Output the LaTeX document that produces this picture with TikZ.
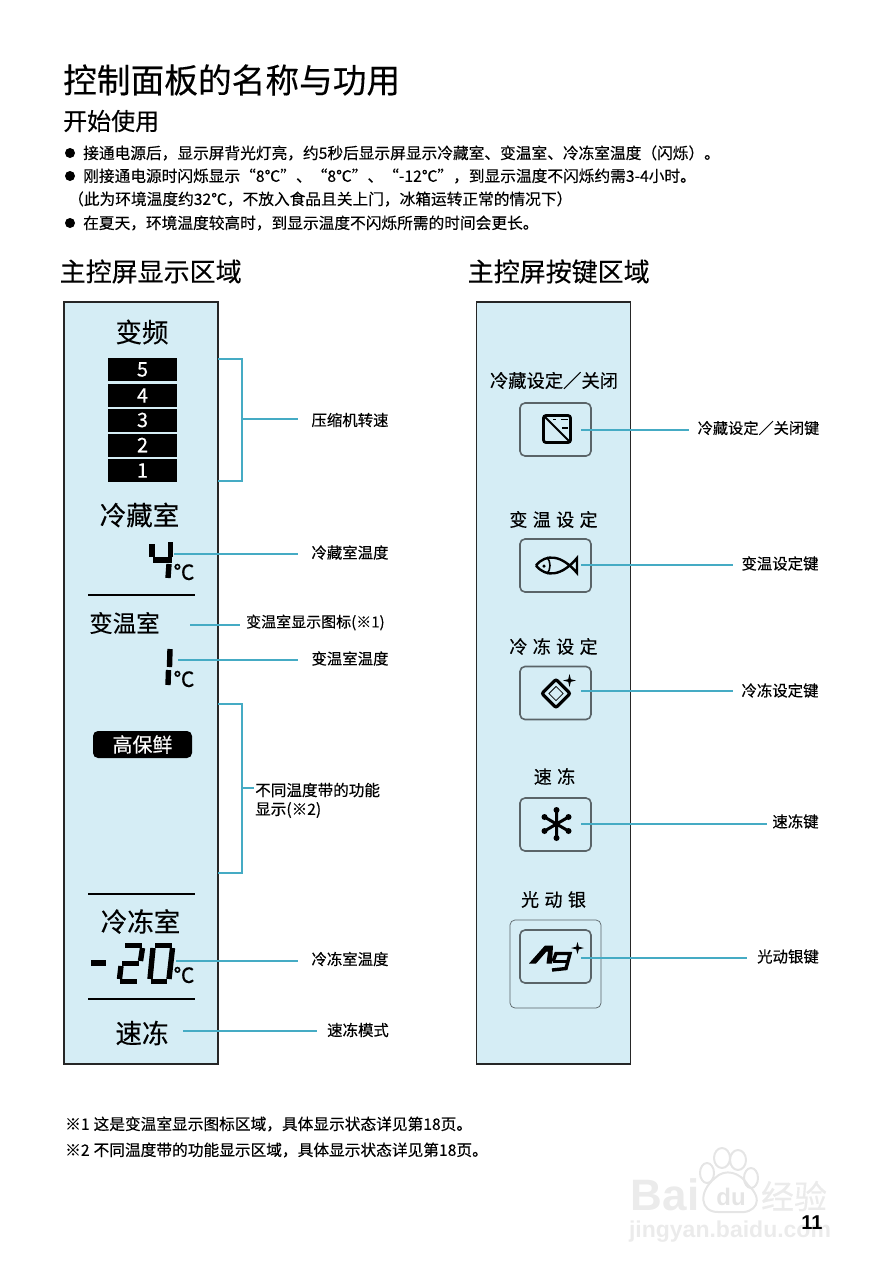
\documentclass[tikz,border=0pt]{standalone}
\usepackage{fontspec}
\setmainfont[FakeBold=.3]{Noto Sans CJK SC}
\newfontfamily\cjkwide[LetterSpace=30,FakeBold=.3]{Noto Sans CJK SC}
\newfontfamily\numfont{Liberation Sans}
\newcommand{\px}[1]{\fontsize{#1}{#1}\selectfont}
\definecolor{panelblue}{HTML}{D5EDF5}
\definecolor{wireblue}{HTML}{45ABC4}
\definecolor{keygray}{HTML}{5A6468}
\tikzset{
	panel/.style={draw=black!85,fill=panelblue,line width=1.4pt,inner sep=0pt,minimum width=154pt,minimum height=762pt},
	txt/.style={inner sep=0pt,anchor=west},
	note/.style={inner sep=0pt,font=\px{15.4}},
	head/.style={inner sep=0pt,font=\px{26.5}},
	keyname/.style={inner sep=0pt,font=\cjkwide\px{18}},
	speedbar/.style={fill=black,text=white,font=\px{20},inner sep=0pt,minimum width=69pt,minimum height=23pt},
	keybox/.style={draw=keygray,line width=1.6pt,rounded corners=5pt,inner sep=0pt,minimum width=71pt,minimum height=53pt},
	wire/.style={draw=wireblue,line width=1.5pt},
	rule/.style={line width=1.5pt},
	lcd/.style={line width=5.4pt},
	icon/.style={line width=2.8pt}
}
\begin{document}
\begin{tikzpicture}[x=1pt,y=-1pt]
	\useasboundingbox (0,0) rectangle (886,1280);
	% watermark
	\node[inner sep=0pt,text=black!8,font=\numfont\bfseries\px{44}] (wmbai) at (665,1195) {Bai};
	\node[inner sep=0pt,text=black!10,font=\numfont\bfseries\px{24}] (wmdu) at (731,1197) {du};
	\node[inner sep=0pt,text=black!8,font=\px{33}] (wmword) at (794,1196) {经验};
	\node[inner sep=0pt,text=black!8,font=\numfont\bfseries\px{23}] (wmsite) at (730,1232) {jingyan.baidu.com};
	\draw[black!10,line width=2pt] (707,1173) ellipse (7 and 10) (722,1158) ellipse (8 and 10) (738,1160) ellipse (8 and 10) (751,1178) ellipse (7 and 10);
	\draw[black!10,line width=2pt] (715,1178) .. controls (725,1168) and (740,1172) .. (748,1185) .. controls (765,1200) and (755,1214) .. (738,1212) -- (718,1212) .. controls (700,1212) and (698,1192) .. (715,1178);
	% heading
	\node[txt,font=\px{33.7}] (title) at (63,80) {控制面板的名称与功用};
	\node[txt,font=\px{24}] (subtitle) at (63,121) {开始使用};
	\node[circle,fill=black,inner sep=0pt,minimum size=10pt] (dota) at (70,153) {};
	\node[circle,fill=black,inner sep=0pt,minimum size=10pt] (dotb) at (70,176) {};
	\node[circle,fill=black,inner sep=0pt,minimum size=10pt] (dotc) at (70,223) {};
	\node[txt,font=\px{15.7}] (linea) at (83,153) {接通电源后，显示屏背光灯亮，约5秒后显示屏显示冷藏室、变温室、冷冻室温度（闪烁）。};
	\node[txt,font=\px{15.7}] (lineb) at (83,176) {刚接通电源时闪烁显示“8℃”、“8℃”、“-12℃”，到显示温度不闪烁约需3-4小时。};
	\node[txt,font=\px{15.7}] (linec) at (68,199) {（此为环境温度约32℃，不放入食品且关上门，冰箱运转正常的情况下）};
	\node[txt,font=\px{15.7}] (lined) at (83,223) {在夏天，环境温度较高时，到显示温度不闪烁所需的时间会更长。};
	\node[txt,font=\px{26}] (displayhead) at (59.5,271.5) {主控屏显示区域};
	\node[txt,font=\px{26}] (keyhead) at (467.5,271.5) {主控屏按键区域};
	% display panel
	\node[panel] (displaypanel) at (141,683) {};
	\node[head] (inverter) at (142,332) {变频};
	\node[speedbar] (speedfive) at (142.5,369.5) {5};
	\node[speedbar] (speedfour) at (142.5,395.5) {4};
	\node[speedbar] (speedthree) at (142.5,420) {3};
	\node[speedbar] (speedtwo) at (142.5,445) {2};
	\node[speedbar] (speedone) at (142.5,470.5) {1};
	\node[head] (fridge) at (139.5,515) {冷藏室};
	\draw[lcd] (152,544) -- (152,557);
	\draw[lcd] (153,560) -- (172,560);
	\draw[lcd] (170.5,542) -- (170.5,557);
	\draw[lcd] (169,564) -- (168,578);
	\node[inner sep=0pt,font=\px{21}] (fridgedeg) at (184,572) {℃};
	\draw[rule] (88,595) -- (194.5,595);
	\node[inner sep=0pt,font=\px{23.5}] (varroom) at (124.5,623) {变温室};
	\draw[lcd] (170,649) -- (169.5,667);
	\draw[lcd] (168.5,670) -- (168,685);
	\node[inner sep=0pt,font=\px{21}] (vardeg) at (184,679) {℃};
	\node[fill=black,text=white,rounded corners=5pt,inner sep=0pt,minimum width=99pt,minimum height=27pt,font=\px{20}] (freshtag) at (142.5,744.5) {高保鲜};
	\draw[rule] (88,894) -- (194.5,894);
	\node[head] (freezer) at (140.5,921.5) {冷冻室};
	\draw[lcd] (91,963) -- (106,963);
	\draw[lcd] (125,945.5) -- (142,945.5);
	\draw[lcd] (142.5,948) -- (140.5,961);
	\draw[lcd] (122,963.5) -- (139,963.5);
	\draw[lcd] (121,966) -- (119.5,979);
	\draw[lcd] (120,981.5) -- (137,981.5);
	\draw[lcd] (155,945.5) -- (172,945.5);
	\draw[lcd] (172.5,948) -- (169,979);
	\draw[lcd] (153,948) -- (150,979);
	\draw[lcd] (151,981.5) -- (167,981.5);
	\node[inner sep=0pt,font=\px{21}] (freezedeg) at (184,975) {℃};
	\draw[rule] (88,999) -- (194.5,999);
	\node[head] (quick) at (142,1033) {速冻};
	% display labels
	\node[note] (speedlabel) at (350,420) {压缩机转速};
	\node[note] (fridgelabel) at (350,552.5) {冷藏室温度};
	\node[txt,font=\px{15}] (iconlabel) at (246,622.5) {变温室显示图标(※1)};
	\node[note] (varlabel) at (350,658.5) {变温室温度};
	\node[txt,font=\px{15.6}] (banda) at (255,790) {不同温度带的功能};
	\node[txt,font=\px{15.6}] (bandb) at (255,810) {显示(※2)};
	\node[note] (freezelabel) at (350,959) {冷冻室温度};
	\node[note] (quicklabel) at (358,1030) {速冻模式};
	\coordinate (speedtop) at (218,359);
	\coordinate (speedbot) at (218,481);
	\coordinate (speedmid) at (242,419);
	\coordinate (bandtop) at (218,704);
	\coordinate (bandbot) at (218,873);
	\coordinate (bandmid) at (242,788);
	\coordinate (fridgeend) at (174,554);
	\coordinate (iconend) at (190,625);
	\coordinate (varend) at (178,660);
	\coordinate (freezeend) at (176,961);
	\coordinate (quickend) at (183,1031);
	\draw[wire] (speedtop) -| (speedmid) |- (speedbot);
	\draw[wire,shorten >=13pt] (speedmid) -- (speedmid -| speedlabel.west);
	\draw[wire] (bandtop) -| (bandmid) |- (bandbot);
	\draw[wire,shorten >=1pt] (bandmid) -- (bandmid -| banda.west);
	\draw[wire,shorten >=13pt] (fridgeend) -- (fridgeend -| fridgelabel.west);
	\draw[wire,shorten >=6pt] (iconend) -- (iconend -| iconlabel.west);
	\draw[wire,shorten >=13pt] (varend) -- (varend -| varlabel.west);
	\draw[wire,shorten >=13pt] (freezeend) -- (freezeend -| freezelabel.west);
	\draw[wire,shorten >=10pt] (quickend) -- (quickend -| quicklabel.west);
	% key panel
	\node[panel] (keypanel) at (553.5,683) {};
	\node[inner sep=0pt,font=\px{18.3}] (chillname) at (554,380.5) {冷藏设定／关闭};
	\node[keyname] (varname) at (553.5,519.5) {变温设定};
	\node[keyname] (coldname) at (553.5,646.5) {冷冻设定};
	\node[keyname] (quickname) at (554.5,776.5) {速冻};
	\node[keyname] (silvername) at (553.5,899.5) {光动银};
	\node[keybox] (chillkey) at (555.5,429.5) {};
	\node[keybox] (varkey) at (555.5,565.5) {};
	\node[keybox] (coldkey) at (555.5,693) {};
	\node[keybox] (quickkey) at (555.5,824.5) {};
	\node[draw=keygray,line width=.7pt,rounded corners=5pt,inner sep=0pt,minimum width=91pt,minimum height=88pt] (silverbase) at (555.5,964) {};
	\node[keybox] (silverkey) at (555.5,956.5) {};
	% icons
	\draw[icon,rounded corners=2.5pt] (543.5,415.5) rectangle (570.5,442.5);
	\draw[line width=2pt] (544,416) -- (570,442);
	\draw[line width=1.8pt] (553,419.5) -- (556,419.5) (561,419.5) -- (568,419.5) (562,428) -- (568,428);
	\draw[line width=2.4pt] (536,565.5) .. controls (546,553) and (562,555) .. (577,573) -- (577,558) .. controls (562,576) and (546,578) .. (536,565.5);
	\draw[line width=1.6pt] (547,557) .. controls (551,562) and (551,569) .. (547,574);
	\node[circle,fill=black,inner sep=0pt,minimum size=3.5pt] (fisheye) at (544,566) {};
	\node[draw,rotate=45,rounded corners=2pt,line width=3.2pt,inner sep=0pt,minimum size=20pt] (iceouter) at (556,693.5) {};
	\node[draw,rotate=45,line width=.8pt,inner sep=0pt,minimum size=10pt] (iceinner) at (556,693.5) {};
	\fill (569.5,674) -- (570.8,679.2) -- (576,680.5) -- (570.8,681.8) -- (569.5,687) -- (568.2,681.8) -- (563,680.5) -- (568.2,679.2) -- cycle;
	\draw[line width=3pt] (556.5,810) -- (556.5,838) (544.5,817) -- (568.5,831) (544.5,831) -- (568.5,817);
	\fill (556.5,810) circle (3) (556.5,838) circle (3) (544.5,817) circle (3) (568.5,831) circle (3) (544.5,831) circle (3) (568.5,817) circle (3);
	\fill (529,963.5) -- (545,945.5) -- (553,945.5) -- (552,963.5) -- (546.5,963.5) -- (548,951.5) -- (546.5,951.5) -- (536,963.5) -- cycle;
	\draw[line width=3.4pt] (553,961.5) -- (556,953.5) -- (570,953.5) -- (566,968.5) -- (552,970);
	\draw[line width=3.4pt] (552.5,961.5) -- (567,961.5);
	\fill (577.5,942) -- (578.8,946.7) -- (584,948) -- (578.8,949.3) -- (577.5,954) -- (576.2,949.3) -- (571,948) -- (576.2,946.7) -- cycle;
	% key labels
	\node[inner sep=0pt,font=\px{15.2}] (chilllabel) at (758.5,428) {冷藏设定／关闭键};
	\node[note] (varkeylabel) at (780,563.5) {变温设定键};
	\node[note] (coldlabel) at (780,690.5) {冷冻设定键};
	\node[note] (quickkeylabel) at (795.5,821.5) {速冻键};
	\node[note] (silverlabel) at (788,956.5) {光动银键};
	\coordinate (chillend) at (581,430);
	\coordinate (varkeyend) at (581,565);
	\coordinate (coldend) at (581,691);
	\coordinate (quickkeyend) at (581,824);
	\coordinate (silverend) at (581,958);
	\draw[wire,shorten >=9pt] (chillend) -- (chillend -| chilllabel.west);
	\draw[wire,shorten >=8pt] (varkeyend) -- (varkeyend -| varkeylabel.west);
	\draw[wire,shorten >=8pt] (coldend) -- (coldend -| coldlabel.west);
	\draw[wire,shorten >=5pt] (quickkeyend) -- (quickkeyend -| quickkeylabel.west);
	\draw[wire,shorten >=10pt] (silverend) -- (silverend -| silverlabel.west);
	% footnotes
	\node[txt,font=\px{15.7}] (foota) at (65,1124) {※1\hspace{4pt}这是变温室显示图标区域，具体显示状态详见第18页。};
	\node[txt,font=\px{15.7}] (footb) at (65,1150) {※2\hspace{4pt}不同温度带的功能显示区域，具体显示状态详见第18页。};
	\node[inner sep=0pt,font=\numfont\bfseries\px{20}] (pagenum) at (812,1223) {11};
\end{tikzpicture}
\end{document}
